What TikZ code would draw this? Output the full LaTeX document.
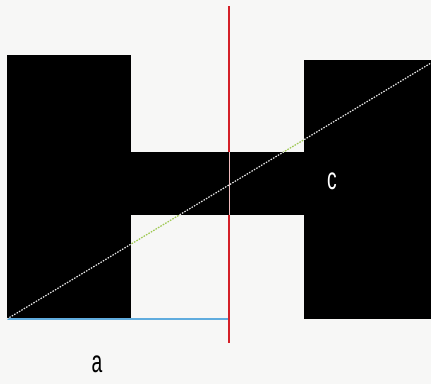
\documentclass[tikz,border=0pt]{standalone}
\usepackage{fontspec}
\setmainfont{Liberation Sans}
\usepackage{tikz}
\definecolor{rojo}{RGB}{212,32,40}
\definecolor{azul}{RGB}{96,172,222}
\definecolor{verde}{RGB}{160,204,80}
\definecolor{fondo}{RGB}{247,247,246}
\tikzset{
  bloque/.style={fill=black, draw=none},
  corte/.style={draw=rojo, line width=1.7pt},
  cortec/.style={draw=rojo!30!white, line width=0.9pt},
  base/.style={draw=azul, line width=1.4pt},
  diagonal/.style={draw=white!90!black, line width=1.2pt, dash pattern=on 1.5pt off 1.3pt},
  diagonalc/.style={diagonal, draw=verde},
  etiq/.style={font=\fontsize{31}{31}\selectfont, inner sep=0pt, xscale=0.62}
}

\begin{document}
\begin{tikzpicture}[x=1pt, y=-1pt]
  \fill[fondo] (0,0) rectangle (431,384);
  \useasboundingbox (0,0) rectangle (431,384);
  % puntos de referencia
  \coordinate (origen) at (7,319);
  \coordinate (fin) at (431,63);
  \coordinate (cortesup) at (229,6);
  \coordinate (corteinf) at (229,343);
  \coordinate (cortebase) at (229,319);
  \coordinate (barrasup) at (229,152);
  \coordinate (barrainf) at (229,215);
  % las tres piezas negras
  \fill[bloque] (7,55) rectangle (131,319);
  \fill[bloque] (131,152) rectangle (304,215);
  \fill[bloque] (304,60) rectangle (431,319);
  \draw[base] (origen) -- (cortebase);
  \draw[corte] (cortesup) -- (barrasup);
  \draw[corte] (barrainf) -- (corteinf);
  \draw[cortec] (barrasup) -- (barrainf);
  \draw[diagonal] (origen) -- (fin);
  \begin{scope}
    \clip (131,40) rectangle (304,152) (131,215) rectangle (304,319);
    \draw[diagonalc] (origen) -- (fin);
  \end{scope}
  \node[etiq, text=white] (c) at (332,181) {c};
  \node[etiq] (a) at (97,364) {a};
\end{tikzpicture}
\end{document}
